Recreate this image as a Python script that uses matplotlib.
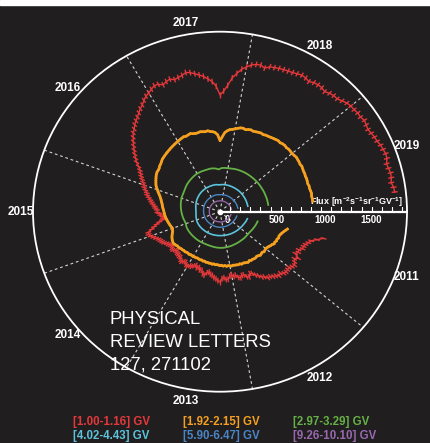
"""AMS daily proton fluxes 2011-2019 drawn as a polar 'clock' (PRL 127, 271102)."""

import numpy as np
import matplotlib
matplotlib.use("Agg")
import matplotlib.pyplot as plt
from matplotlib.patches import Rectangle

plt.rcParams["font.family"] = ["Liberation Sans", "DejaVu Sans"]
plt.rcParams["mathtext.default"] = "regular"

BG = "#201e1f"
RMAX = 1850
T0 = 2011.375  # first day of data (May 2011)

YEARS = [2011, 2012, 2013, 2014, 2015, 2016, 2017, 2018, 2019]
RTICK_LABELS = [0, 500, 1000, 1500]

BINS = ["[1.00-1.16] GV", "[1.92-2.15] GV", "[2.97-3.29] GV",
        "[4.02-4.43] GV", "[5.90-6.47] GV", "[9.26-10.10] GV"]
COLORS = ["#e5383b", "#f5a01f", "#66b145", "#5bc3db", "#4a86c6", "#9a68b0"]

# half-month samples from T0
red_flux = [
    1060, 1000, 950, 930, 910, 900, 900, 870, 880, 860, 910, 880,
    900, 920, 910, 890, 895, 900, 895, 870, 880, 860, 850, 830,
    830, 800, 790, 760, 740, 710, 700, 730, 720, 690, 690, 710,
    700, 670, 680, 660, 670, 700, 700, 680, 690, 720, 710, 690,
    680, 660, 650, 630, 640, 670, 660, 630, 630, 610, 620, 600,
    615, 630, 630, 650, 640, 620, 625, 640, 630, 610, 610, 600,
    600, 590, 595, 610, 605, 590, 600, 610, 620, 640, 650, 660,
    670, 690, 710, 730, 745, 740, 700, 670, 640, 610, 580, 565,
    570, 590, 600, 620, 625, 640, 650, 670, 685, 700, 720, 740,
    750, 770, 790, 800, 820, 840, 860, 880, 900, 930, 970, 1000,
    1030, 1060, 1090, 1120, 1150, 1180, 1200, 1230, 1250, 1270, 1295, 1320,
    1340, 1370, 1395, 1410, 1430, 1450, 1445, 1420, 1440, 1450, 1430, 1440,
    1450, 1470, 1460, 1440, 1420, 1400, 1370, 1340, 1290, 1200, 1240, 1300,
    1380, 1430, 1480, 1510, 1540, 1555, 1560, 1540, 1570, 1575, 1585, 1590,
    1595, 1600, 1610, 1620, 1615, 1600, 1620, 1625, 1625, 1610, 1630, 1640,
    1640, 1660, 1680, 1690, 1690, 1700, 1695, 1710, 1700, 1690, 1700, 1710,
    1715, 1730, 1735, 1745, 1740, 1720, 1725, 1735, 1730, 1720, 1735, 1740,
]
orange_flux = [
    690, 675, 660, 650, 640, 635, 640, 630, 635, 625, 630, 615,
    610, 600, 595, 590, 595, 600, 590, 595, 600, 590, 585, 590,
    590, 585, 588, 580, 590, 585, 580, 575, 580, 570, 575, 570,
    569, 565, 570, 565, 560, 565, 555, 560, 550, 555, 548, 545,
    547, 540, 545, 538, 540, 535, 538, 530, 535, 528, 532, 530,
    525, 530, 528, 532, 530, 528, 535, 530, 532, 538, 535, 540,
    540, 545, 550, 548, 555, 560, 565, 560, 555, 548, 540, 530,
    520, 510, 505, 500, 505, 510, 515, 520, 525, 530, 535, 540,
    545, 548, 552, 556, 560, 565, 570, 575, 580, 588, 595, 605,
    615, 630, 645, 660, 675, 690, 700, 710, 720, 730, 738, 745,
    745, 750, 760, 765, 775, 785, 790, 795, 800, 805, 810, 815,
    820, 825, 830, 835, 840, 845, 850, 845, 850, 855, 845, 840,
    840, 845, 840, 835, 840, 830, 825, 815, 790, 730, 770, 815,
    835, 850, 855, 865, 875, 885, 888, 880, 890, 895, 890, 895,
    900, 905, 900, 908, 910, 915, 920, 925, 930, 925, 933, 935,
    930, 935, 933, 930, 935, 940, 937, 935, 930, 935, 930, 925,
    925, 920, 922, 918, 915, 920, 918, 922, 925, 920, 923, 925,
]
# monthly samples from T0
green_flux = [
    385, 382, 378, 374, 370, 366, 362, 360, 360, 361, 362, 362,
    362, 363, 364, 365, 366, 368, 369, 370, 371, 372, 372, 371,
    370, 368, 366, 364, 363, 362, 362, 363, 364, 365, 366, 366,
    366, 367, 367, 368, 368, 368, 366, 362, 360, 363, 368, 372,
    376, 380, 384, 388, 392, 396, 400, 403, 406, 408, 410, 414,
    420, 426, 432, 436, 440, 444, 448, 452, 452, 453, 452, 451,
    452, 453, 450, 445, 435, 448, 452, 453, 455, 458, 462, 465,
    467, 469, 471, 472, 473, 474, 475, 476, 477, 478, 478, 479,
    480, 480, 481, 482, 482, 482,
]
# two-month samples from T0
cyan_flux = [
    280, 275, 268, 264, 260, 257, 254, 252, 250, 248, 247, 246,
    246, 246, 247, 247, 248, 248, 249, 250, 250, 249, 246, 242,
    238, 238, 242, 248, 254, 260, 265, 270, 274, 277, 279, 280,
    281, 281, 276, 280, 282, 283, 283, 283, 284, 284, 283, 282,
    282, 281, 281,
]
blue_flux = [
    172, 170, 168, 166, 165, 164, 163, 162, 161, 160, 160, 160,
    160, 159, 159, 158, 158, 158, 158, 159, 160, 160, 160, 161,
    162, 163, 164, 166, 168, 170, 171, 172, 173, 174, 175, 176,
    177, 177, 174, 176, 177, 178, 178, 178, 179, 179, 179, 180,
    180, 180, 180,
]
purple_flux = [
    112, 111, 110, 110, 109, 108, 108, 107, 107, 106, 106, 106,
    105, 105, 105, 105, 105, 105, 105, 105, 105, 106, 106, 106,
    106, 106, 107, 107, 108, 108, 109, 109, 110, 110, 111, 111,
    112, 112, 111, 112, 112, 113, 113, 113, 113, 114, 114, 114,
    115, 115, 115,
]


def to_theta(years):
    """Calendar year -> polar angle, one full turn per 9 years."""
    return (np.asarray(years, dtype=float) - 2011) * 2 * np.pi / 9


def sample_times(values, per_year):
    return T0 + np.arange(len(values)) / per_year


fig = plt.figure(figsize=(4.31, 4.43), dpi=100, facecolor=BG)
fig.patches.append(Rectangle((0, 1 - 5 / 443), 1, 5 / 443,
                             transform=fig.transFigure, color="white", zorder=10))

ax = fig.add_axes([33 / 431, 51.3 / 443, 374 / 431, 360 / 443], projection="polar")
ax.set_facecolor(BG)
ax.set_theta_zero_location("E")
ax.set_theta_direction(-1)
ax.set_aspect("auto")
ax.set_ylim(0, RMAX)
ax.set_yticks([])
ax.grid(False)
ax.spines["polar"].set_color("white")
ax.spines["polar"].set_linewidth(1.3)

# quarter-year ticks on the rim, year names in the middle of each year
ax.set_xticks(to_theta(2011 + np.arange(36) / 4), minor=True)
ax.set_xticks(to_theta(np.array(YEARS) + 0.5), labels=[str(y) for y in YEARS],
              fontweight="bold")
ax.tick_params(axis="x", which="both", direction="in", length=3.5, width=0.8,
               color="white", pad=1.5, labelcolor="white", labelsize=8.5)

# dashed year boundaries
for y in YEARS:
    th = to_theta(y)
    ax.plot([th, th], [0, RMAX], color="#d4d4d4", lw=0.8, ls=(0, (2.5, 2.5)), zorder=1)

# series
t_half = sample_times(red_flux, 24)
ax.errorbar(to_theta(t_half), red_flux, yerr=30, fmt="none", ecolor=COLORS[0],
            elinewidth=1.0, zorder=3)
ax.plot(to_theta(t_half), red_flux, color=COLORS[0], lw=1.0, zorder=3)

t_half = sample_times(orange_flux, 24)
ax.errorbar(to_theta(t_half), orange_flux, yerr=12, fmt="none", ecolor=COLORS[1],
            elinewidth=1.1, zorder=4)
ax.plot(to_theta(t_half), orange_flux, color=COLORS[1], lw=2.0, zorder=4)

ax.plot(to_theta(sample_times(green_flux, 12)), green_flux, color=COLORS[2], lw=1.3, zorder=5)
ax.plot(to_theta(sample_times(cyan_flux, 6)), cyan_flux, color=COLORS[3], lw=1.2, zorder=5)
ax.plot(to_theta(sample_times(blue_flux, 6)), blue_flux, color=COLORS[4], lw=1.0, zorder=5)
ax.plot(to_theta(sample_times(purple_flux, 6)), purple_flux, color=COLORS[5], lw=0.9, zorder=5)

# radial flux axis along the 2011 line
ax.plot([0, 0], [0, RMAX], color="white", lw=1.6, zorder=6)
ax.plot(np.zeros(18), np.arange(100, 1900, 100), ls="none", marker=2, ms=3.5,
        mec="white", mew=0.8, zorder=6)
ax.plot(0, 0, "o", color="white", ms=3, zorder=7)
for val, dx in zip(RTICK_LABELS, [7, 6, 4, 0]):
    ax.annotate(str(val), (0, val), xytext=(dx, -3), textcoords="offset pixels",
                ha="center", va="top", color="white", fontsize=7, fontweight="bold")
ax.annotate(r"Flux [m$^{-2}$s$^{-1}$sr$^{-1}$GV$^{-1}$]", (0, RMAX), xytext=(-4, 3),
            textcoords="offset pixels", ha="right", va="bottom", color="white",
            fontsize=6.5, fontweight="bold")

# journal stamp
for i, line in enumerate(["PHYSICAL", "REVIEW LETTERS", "127, 271102"]):
    fig.text(110 / 431, 1 - (324.3 + 22.5 * i) / 443, line, color="white",
             fontsize=13.3, ha="left", va="baseline")

# legend
for i, (name, col) in enumerate(zip(BINS, COLORS)):
    fig.text((72.7 + 110 * (i % 3)) / 431, 1 - (421.5 + 14.5 * (i // 3)) / 443, name,
             color=col, fontsize=8.3, fontweight="bold", ha="left", va="center")

fig.savefig("out.png", dpi=100, facecolor=BG)
